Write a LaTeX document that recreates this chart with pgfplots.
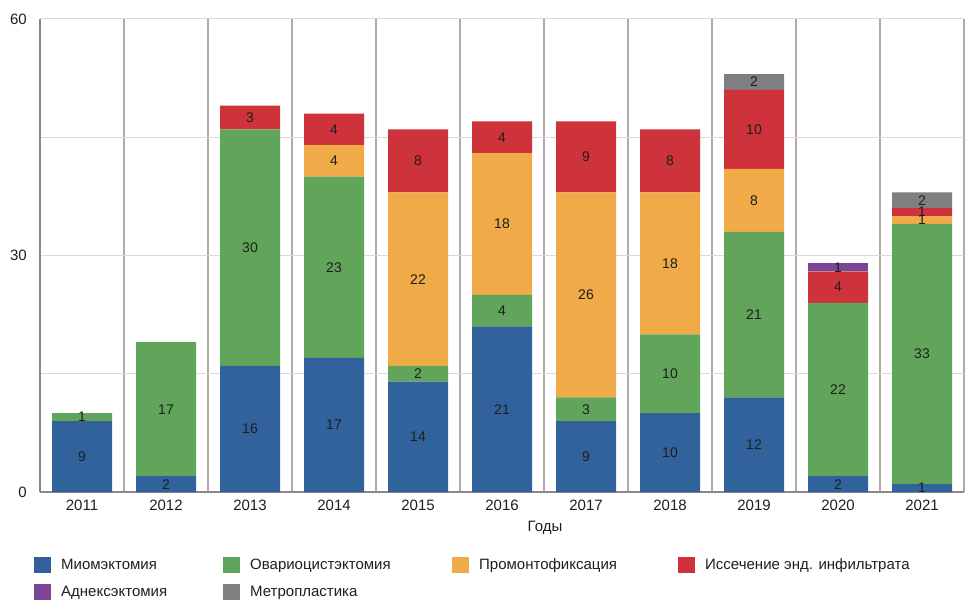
\documentclass[border=0pt]{standalone}
\usepackage{pgfplots}
\pgfplotsset{compat=1.18}
\usepackage{fontspec}
\setmainfont{Liberation Sans}
\definecolor{cM}{RGB}{49,98,155}
\definecolor{cO}{RGB}{96,165,89}
\definecolor{cP}{RGB}{240,170,72}
\definecolor{cI}{RGB}{206,50,58}
\definecolor{cA}{RGB}{123,70,150}
\definecolor{cMe}{RGB}{125,127,128}
\definecolor{gridH}{RGB}{222,216,216}
\definecolor{gridV}{RGB}{178,170,170}
\definecolor{axisC}{RGB}{140,134,134}
\definecolor{labelC}{RGB}{30,30,30}

\pgfplotstableread{
x v
0 9
1 2
2 16
3 17
4 14
5 21
6 9
7 10
8 12
9 2
10 1
}\tM
\pgfplotstableread{
x v
0 1
1 17
2 30
3 23
4 2
5 4
6 3
7 10
8 21
9 22
10 33
}\tO
\pgfplotstableread{
x v
0 0
1 0
2 0
3 4
4 22
5 18
6 26
7 18
8 8
9 0
10 1
}\tP
\pgfplotstableread{
x v
0 0
1 0
2 3
3 4
4 8
5 4
6 9
7 8
8 10
9 4
10 1
}\tI
\pgfplotstableread{
x v
0 0
1 0
2 0
3 0
4 0
5 0
6 0
7 0
8 0
9 1
10 0
}\tA
\pgfplotstableread{
x v
0 0
1 0
2 0
3 0
4 0
5 0
6 0
7 0
8 2
9 0
10 2
}\tMe
% label positions (segment centres) and values
\pgfplotstableread{
x y l
0 4.5 9
0 9.5 1
1 1 2
1 10.5 17
2 8 16
2 31 30
2 47.5 3
3 8.5 17
3 28.5 23
3 42 4
3 46 4
4 7 14
4 15 2
4 27 22
4 42 8
5 10.5 21
5 23 4
5 34 18
5 45 4
6 4.5 9
6 10.5 3
6 25 26
6 42.5 9
7 5 10
7 15 10
7 29 18
7 42 8
8 6 12
8 22.5 21
8 37 8
8 46 10
8 52 2
9 1 2
9 13 22
9 26 4
9 28.5 1
10 0.5 1
10 17.5 33
10 34.5 1
10 35.5 1
10 37 2
}\tL

\pgfplotsset{
  mybar/.style={fill=#1, draw=none,
    legend image code/.code={\fill[##1] (0pt,-8pt) rectangle (17pt,8pt); \path (27pt,0pt);}},
  geom/.style={at={(40pt,110pt)}, anchor=south west, scale only axis,
    width=924pt, height=473pt, xmin=-0.5, xmax=10.5, ymin=0, ymax=60},
}

\begin{document}
\fontsize{15pt}{18pt}\selectfont
\begin{tikzpicture}
\begin{axis}[
  geom,
  ybar stacked, bar width=60pt,
  xtick={0,...,10},
  xticklabels={2011,2012,2013,2014,2015,2016,2017,2018,2019,2020,2021},
  minor xtick={0.5,1.5,...,10.5},
  ytick={0,30,60}, minor ytick={15,45},
  ymajorgrids, yminorgrids, xminorgrids,
  major grid style={draw=gridH, line width=1pt},
  minor y grid style={draw=gridH, line width=1pt},
  minor x grid style={draw=gridV, line width=1.4pt},
  axis x line*=bottom, axis y line*=left,
  axis line style={draw=axisC, line width=1.4pt, -},
  major tick length=0pt, minor tick length=0pt,
  tick style={draw=none},
  /pgf/number format/assume math mode=true,
  tick label style={font=\fontsize{15pt}{18pt}\selectfont, text=labelC},
  xticklabel style={inner sep=0pt, anchor=north, yshift=-8pt},
  yticklabel style={inner sep=0pt, anchor=east, xshift=-13pt},
  xlabel={Годы},
  xlabel style={at={(axis description cs:0.5465,0)}, anchor=center, yshift=-36pt, inner sep=0pt, font=\fontsize{15pt}{18pt}\selectfont, text=labelC},
  legend columns=4,
  legend cell align=left,
  legend style={at={(axis description cs:0,0)}, anchor=north west,
    xshift=-6pt, yshift=-65pt, draw=none, fill=none, inner sep=0pt,
    column sep=0pt, row sep=11pt,
    font=\fontsize{15pt}{18pt}\selectfont, text=labelC,
    nodes={inner sep=0pt}},
]
\addplot[mybar=cM] table[x=x,y=v]{\tM};
\addlegendentry{\makebox[162pt][l]{Миомэктомия}}
\addplot[mybar=cO] table[x=x,y=v]{\tO};
\addlegendentry{\makebox[202pt][l]{Овариоцистэктомия}}
\addplot[mybar=cP] table[x=x,y=v]{\tP};
\addlegendentry{\makebox[199pt][l]{Промонтофиксация}}
\addplot[mybar=cI] table[x=x,y=v]{\tI};
\addlegendentry{Иссечение энд. инфильтрата}
\addplot[mybar=cA] table[x=x,y=v]{\tA};
\addlegendentry{\makebox[162pt][l]{Аднексэктомия}}
\addplot[mybar=cMe] table[x=x,y=v]{\tMe};
\addlegendentry{\makebox[202pt][l]{Метропластика}}
\end{axis}
\begin{axis}[geom, hide axis]
\addplot[draw=none, mark=none, nodes near coords, point meta=explicit symbolic,
  nodes near coords align=center,
  every node near coord/.append style={anchor=center, inner sep=0pt, text=labelC, font=\fontsize{14pt}{16pt}\selectfont}]
  table[x=x,y=y,meta=l]{\tL};
\end{axis}
\pgfresetboundingbox
\path[use as bounding box] (0pt,0pt) rectangle (973pt,602pt);
\end{tikzpicture}
\end{document}
